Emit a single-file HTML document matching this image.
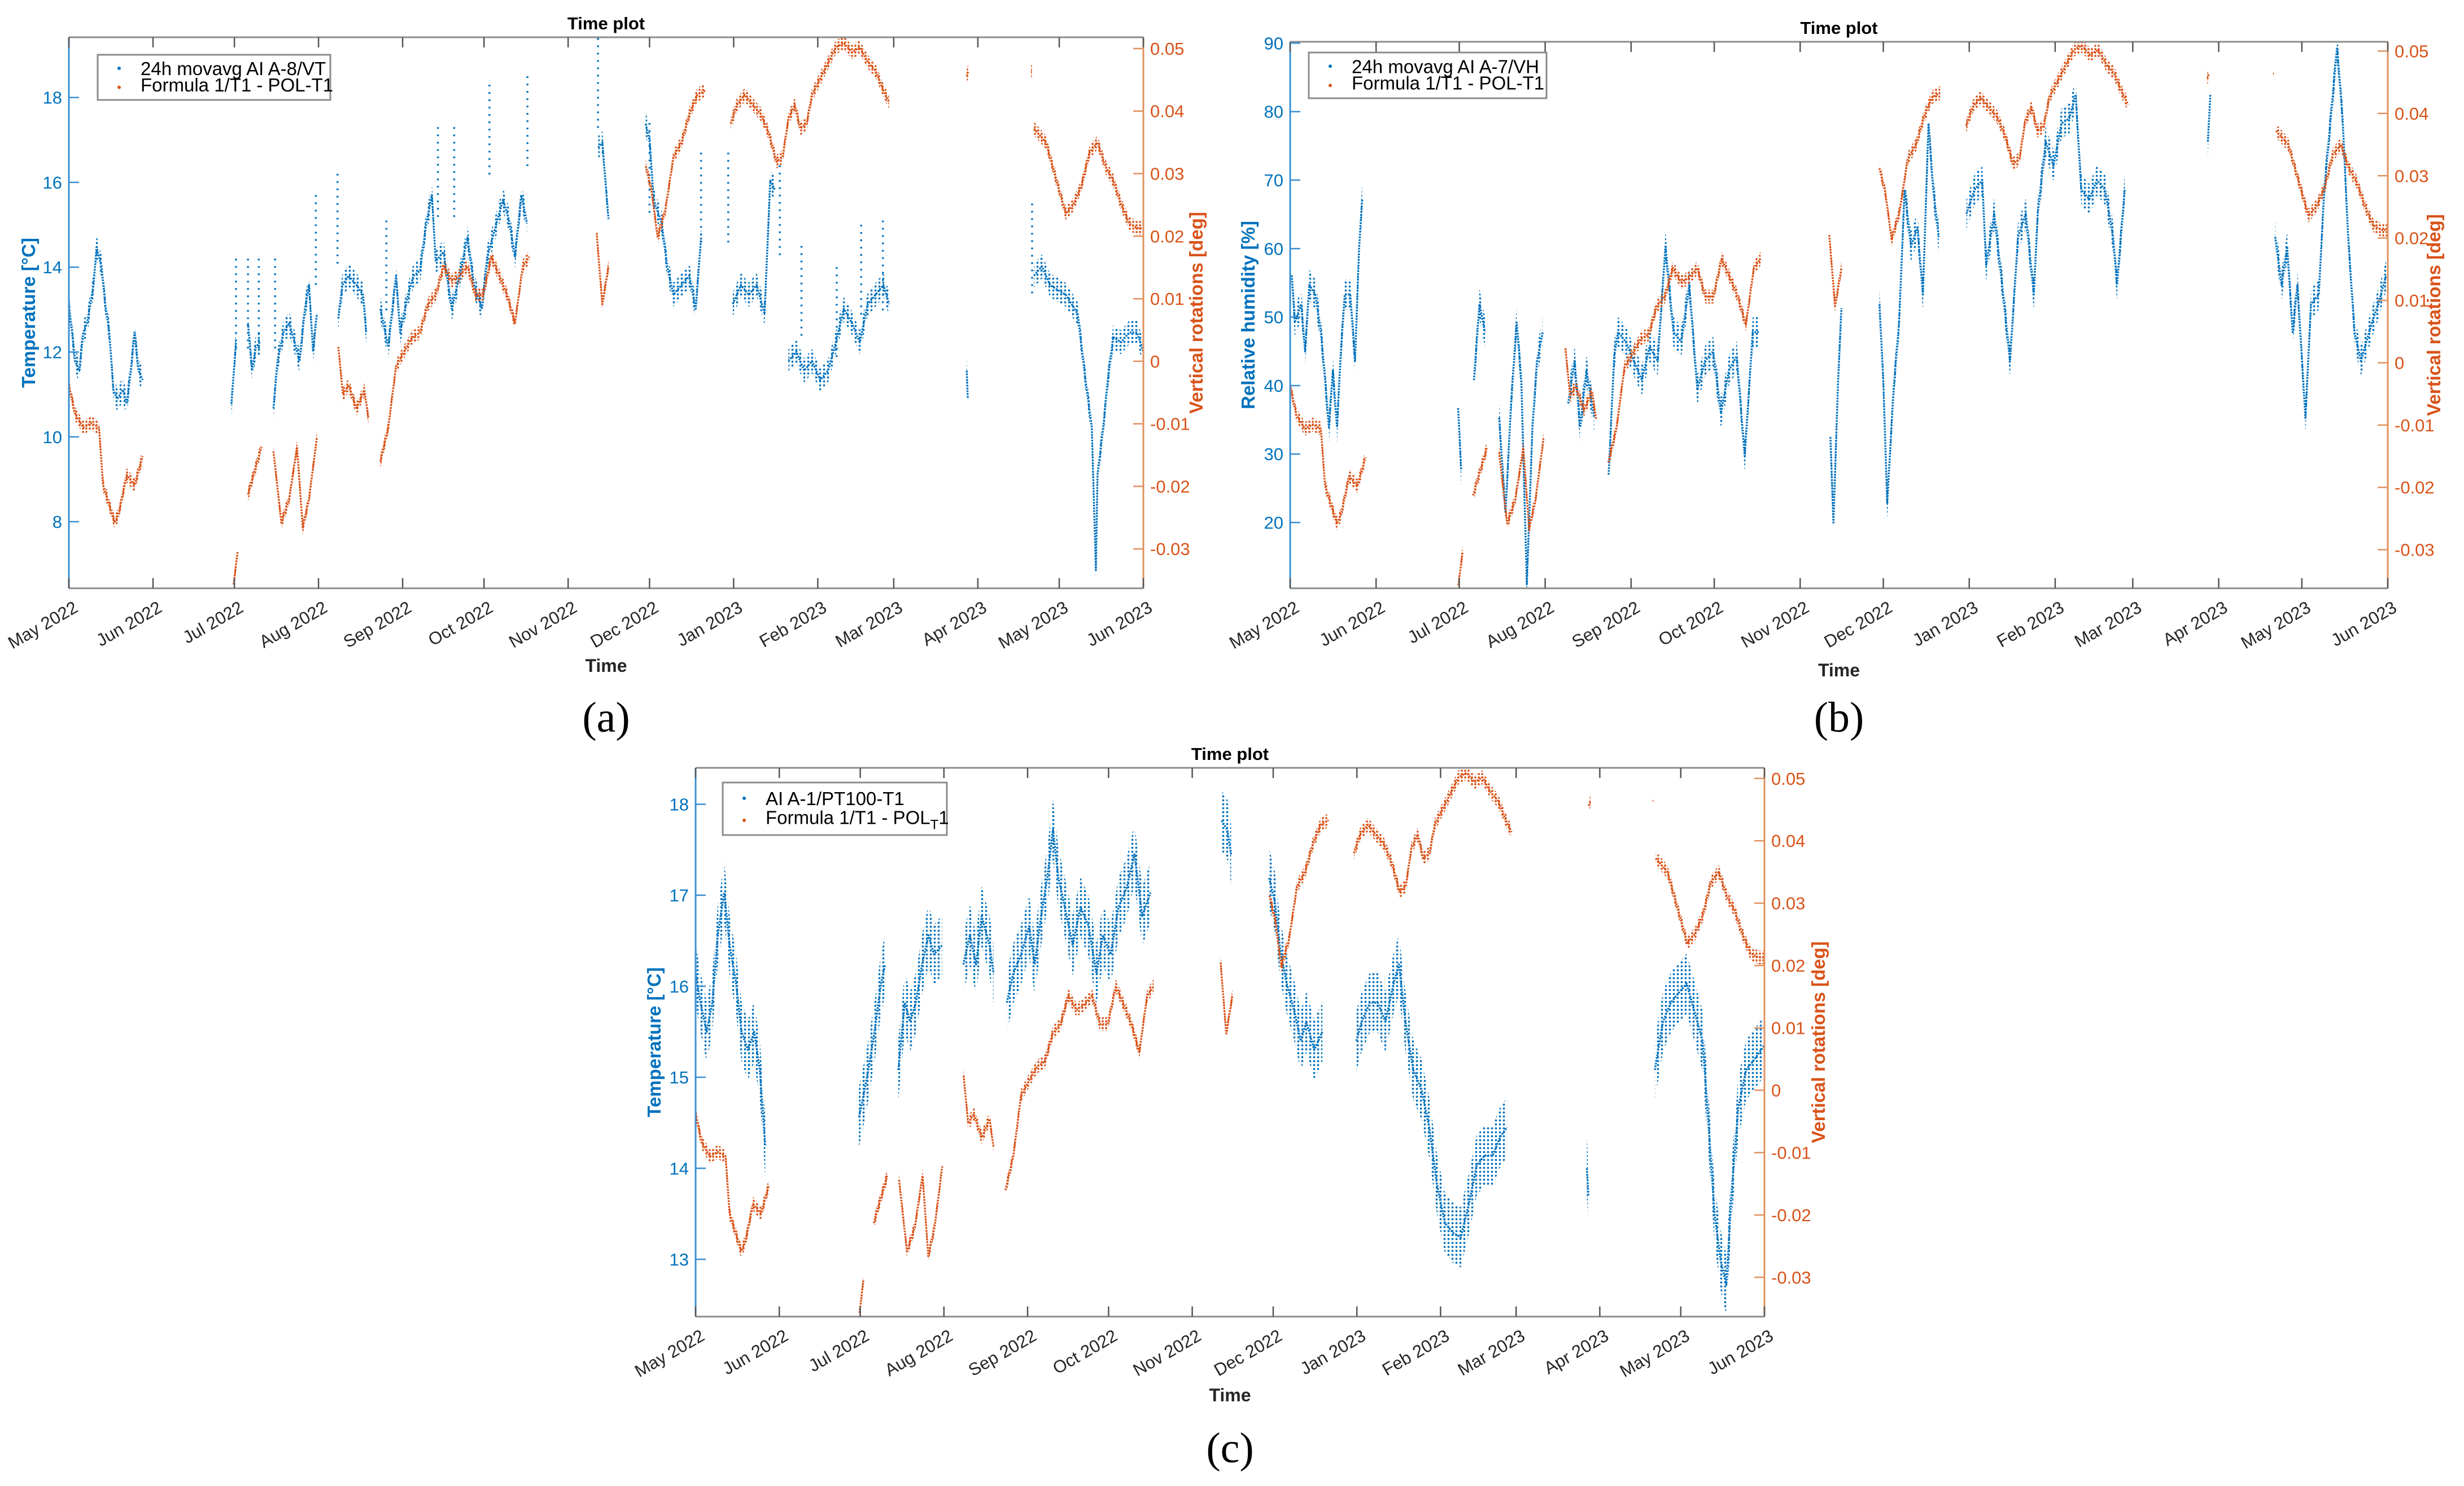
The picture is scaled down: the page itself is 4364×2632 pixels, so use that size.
<!DOCTYPE html>
<html><head><meta charset="utf-8"><title>Time plots</title>
<style>
html,body{margin:0;padding:0;background:#fff;}
svg{display:block;font-family:"Liberation Sans",Arial,sans-serif;}
</style></head>
<body>
<svg id="root" width="4364" height="2632" viewBox="0 0 4364 2632" xmlns="http://www.w3.org/2000/svg">
<defs>
<pattern id="dotsBlue" width="7" height="7" patternUnits="userSpaceOnUse"><circle cx="3.5" cy="3.5" r="1.9" fill="#0072BD"/></pattern>
<pattern id="dotsOrange" width="6" height="6" patternUnits="userSpaceOnUse"><circle cx="3" cy="3" r="1.9" fill="#D95319"/></pattern>
</defs>
<rect x="0" y="0" width="4364" height="2632" fill="#fff"/>
</svg>
<script>
// ---- shared x axis: days since 1 May 2022 ----
const monthLabels = ["May 2022","Jun 2022","Jul 2022","Aug 2022","Sep 2022","Oct 2022","Nov 2022","Dec 2022","Jan 2023","Feb 2023","Mar 2023","Apr 2023","May 2023","Jun 2023"];
const monthDays = [0,31,61,92,123,153,184,214,245,276,304,335,365,396];

// ---- orange series (vertical rotations, deg) shared by all panels ----
const orangeDays = [0,2.3,5.3,8.2,11.1,12.6,16.9,18.4,21.3,24.2,27.2,null,60.7,62.2,null,66,68,71,null,75.4,78.3,81.2,84.1,86.2,88.5,91.4,null,99.3,101,103.1,106,108.9,110.4,null,114.8,117.7,120.6,123.5,126.5,129.4,132.3,135.2,138.1,141.1,144,146.9,149.8,152.7,155.7,158.6,161.5,164.4,167.3,169.7,null,194.5,196.6,198.9,null,212.6,214.7,217,219.9,222.8,225.8,228.7,231.6,234.5,null,243.9,246.2,249.1,252,255,257.9,260.8,263.1,265.2,267.5,269.6,271.9,273.9,278.3,282.7,285.6,288.6,291.5,294.4,297.3,300.2,302.3,null,330.9,331.5,null,354.6,354.9,null,355.7,360.1,364.5,367.4,370.3,373.2,376.2,379.1,382,384.9,387.8,390.8,393.7,396];
const orangeVals = [-0.0038,-0.0084,-0.0106,-0.0099,-0.0106,-0.0198,-0.0258,-0.0243,-0.0182,-0.0198,-0.0152,null,-0.0357,-0.0304,null,-0.0213,-0.0182,-0.0137,null,-0.0144,-0.0258,-0.022,-0.0137,-0.0266,-0.022,-0.0122,null,0.0023,-0.0053,-0.0038,-0.0076,-0.0046,-0.0091,null,-0.016,-0.0106,-0.0008,0.0015,0.0038,0.0046,0.0091,0.0106,0.0152,0.0129,0.0137,0.0152,0.0106,0.0106,0.0167,0.0137,0.0106,0.0061,0.0152,0.0167,null,0.0205,0.0091,0.0152,null,0.0312,0.0274,0.0198,0.0243,0.0327,0.035,0.0395,0.0426,0.0433,null,0.038,0.041,0.0426,0.041,0.0395,0.0365,0.0319,0.0327,0.0388,0.041,0.0372,0.038,0.0426,0.0464,0.0502,0.0509,0.0494,0.0502,0.0479,0.0464,0.0433,0.0414,null,0.0456,0.0464,null,0.0464,0.0464,null,0.0372,0.035,0.0281,0.0236,0.0251,0.0281,0.0334,0.035,0.0312,0.0289,0.0251,0.022,0.0213,0.0213];

// ---- panel (a): temperature A-8/VT ----
const blueADays = [0,2.3,3.8,5.3,6.7,9.1,10.2,12,13.4,14.9,16.4,17.8,19.9,21.3,22.8,24.2,25.7,27.2,null,59.9,61.6,null,66,67.5,68.9,70.4,null,75.4,76.9,79.1,81.2,83.2,85,87,88.5,90,91.4,null,99.3,100.8,103.1,106,108.4,109.6,null,114.8,117.7,120.6,122.1,125,127,129.4,131.7,133.8,135.2,138.1,141.1,144,146.9,149.3,152.2,154.2,157.1,160,162.1,164.4,166.8,168.8,null,195.1,196.6,198,198.9,null,212.6,214.1,215.5,218.5,220.5,222.8,225.8,228.7,231,233,null,244.7,247.7,250.6,253.5,256.4,258.5,260.2,null,265.2,268.1,271,273.9,276.9,279.8,282.7,285.6,288.6,291.5,294.4,297.3,300.2,302.3,null,330.9,331.3,null,355.7,358.6,361.6,364.5,367.4,371.8,374.7,377,378.5,379.1,381.2,382.9,384.9,387.8,390.8,393.7,396];
const blueAVals = [13.13,11.79,11.56,12.46,12.68,13.58,14.47,14.02,13.13,12.46,11.11,10.89,11.11,10.78,11.56,12.46,11.56,11.34,null,10.78,12.23,null,12.68,11.56,12.12,12.23,null,10.67,11.79,12.46,12.68,12.23,11.79,13.02,13.58,12.01,12.9,null,12.79,13.58,13.8,13.58,13.35,12.46,null,13.02,12.12,13.8,12.46,13.35,13.8,13.91,15.03,15.7,14.14,14.36,13.02,13.8,14.7,13.58,13.02,14.25,14.92,15.59,15.14,14.25,15.7,15.03,null,16.82,16.94,15.82,15.14,null,17.38,16.94,15.59,15.03,14.02,13.35,13.58,13.8,13.02,14.7,null,13.13,13.58,13.35,13.58,12.9,16.04,15.82,null,11.79,12.01,11.56,11.79,11.34,11.56,12.23,13.02,12.68,12.23,13.13,13.35,13.58,13.13,null,11.56,10.89,null,13.8,14.02,13.58,13.46,13.35,12.9,11.34,10.22,6.86,9.1,10.22,11.34,12.35,12.23,12.46,12.46,12.01];
const spikeADays = [61.6,66,70,76,91,99,117,136,142,155,169,195,214,233,243,262,270,283,292,300,355];
const spikeATops = [14.2,14.2,14.2,14.2,15.7,16.2,15.1,17.3,17.3,18.3,18.5,19.4,17.4,16.7,16.7,16.4,14.5,14.0,15.0,15.1,15.5];
const yTicksA = [8,10,12,14,16,18];

// ---- panel (b): relative humidity A-7/VH ----
const blueBDays = [0.6,1.7,4,5.4,6.9,9.1,11.1,12.6,14,15.4,16.9,18.3,19.7,21.7,23.4,24.9,26,null,60.6,61.7,null,66.3,68.3,70.3,null,75.4,77.7,79.7,81.7,83.4,85.4,87.4,89.1,91.1,null,100.3,102.6,104.6,106.9,109.7,null,114.9,116.9,118.3,121.1,124,126.9,129.7,132.6,135.4,138.3,141.1,144,146.9,149.7,152.6,155.4,158.3,161.1,164,166.9,169.1,null,194.9,196,197.7,198.9,null,212.6,214,215.4,217.7,219.7,221.7,224,226.3,228.3,230.3,232,234,null,244,246.9,249.7,251.1,254,256.9,259.7,262.6,265.4,268.3,269.7,272.6,275.4,278.3,281.1,283.4,285.4,288.3,291.1,294,296.9,298.3,301.1,null,331.1,332,null,355.4,357.7,359.7,361.7,363.4,366.3,368.3,371.1,373.1,375.4,377.7,379.7,381.7,384,386.3,388.3,390.3,392.6,395.4];
const blueBVals = [56.1,49.2,51.9,45,54.7,53.3,47.8,40.8,33.9,42.2,33.9,45,53.3,53.3,43.6,60.3,67.2,null,36.7,27.6,null,40.8,51.9,47.8,null,35.3,21.4,37.4,49.2,40.8,11,33.9,43.6,47.8,null,37.4,43.6,33.9,42.2,35.3,null,27,44.3,47.8,46.4,43.6,40.8,45.7,43.6,60.3,47.8,46.4,54.7,39.4,43.6,45,36,42.2,44.3,29.7,47.8,47.8,null,32.5,20,40.8,51.3,null,51.9,40.8,22.8,39.4,49.2,68.6,60.3,63.1,53.3,78.3,68.6,61.7,null,65.1,68.6,70,57.5,65.1,54.7,43.6,61.7,65.1,53.3,65.1,75.6,72.1,78.3,79,82.5,68.6,67.2,70,68.6,61.7,54.7,68.6,null,75.6,82.5,null,61.7,54.7,60.3,47.8,54.7,35.3,51.9,53.3,68.6,79,89.4,79,61.7,47.8,43.6,46.4,49.2,51.9,56.1];
const yTicksB = [20,30,40,50,60,70,80,90];

// ---- panel (c): temperature A-1/PT100-T1 ----
const blueCDays = [0,1.8,4.1,6.2,8.2,10.6,12.6,15,17,19.4,21.7,23.8,25.8,null,60.5,62,64,66.3,68.7,70.2,null,75.1,77.5,79.5,81.6,83.9,86.3,88.3,91.3,null,99.2,101.6,103.9,106,108.9,110.4,null,115.3,117.7,120.6,123.6,125.6,128,130.3,132.4,134.4,136.8,139.7,142.6,145.6,148.5,150.9,153.8,156.7,159.7,162.6,165.5,168.5,null,194.9,197,198.4,null,212.5,214.6,216.6,219,221.9,224.2,226.3,229.2,232.2,null,244.8,246.8,249.8,252.7,255.6,258.6,260.6,263,265.9,268.9,271.8,274.7,277.6,280.6,283.5,286.5,289.4,292.3,295.3,298.2,300.6,null,330.2,330.8,null,355.4,358.4,361.3,364.3,367.2,370.1,373.1,375.1,377.5,379.8,381.9,383.9,386.3,389.2,392.1,396];
const blueCVals = [16.14,15.82,15.5,15.82,16.56,17.03,16.45,16.03,15.5,15.3,15.5,15.08,14.24,null,14.56,14.77,15.08,15.5,16.03,16.24,null,15.08,15.82,15.61,15.82,16.24,16.56,16.35,16.45,null,16.24,16.56,16.24,16.77,16.45,16.14,null,15.82,16.14,16.35,16.66,16.24,16.77,17.19,17.72,17.19,16.87,16.45,16.87,16.66,16.14,16.56,16.35,16.87,17.08,17.45,16.77,17.03,null,17.82,17.72,17.45,null,17.19,16.93,16.4,16.03,15.72,15.4,15.61,15.3,15.5,null,15.4,15.61,15.82,15.82,15.61,16.03,16.24,15.61,15.08,14.87,14.45,13.82,13.4,13.29,13.24,13.61,14.03,14.14,14.14,14.35,14.45,null,14.0,13.7,null,15.08,15.61,15.82,15.93,16.03,15.72,15.4,14.56,13.5,12.98,12.72,13.77,14.66,15.08,15.19,15.35];
const yTicksC = [13,14,15,16,17,18];

const rightTicks = [-0.03,-0.02,-0.01,0,0.01,0.02,0.03,0.04,0.05];
const rightTickLabels = ["-0.03","-0.02","-0.01","0","0.01","0.02","0.03","0.04","0.05"];

// ---------------- rendering ----------------
const NS = "http://www.w3.org/2000/svg";
const root = document.getElementById("root");
const BLUE = "#0072BD", ORANGE = "#D95319", BLUEAX = "#3a8fd1", ORANGEAX = "#e0915f";
function mk(tag, attrs, parent) {
  const e = document.createElementNS(NS, tag);
  for (const k in attrs) e.setAttribute(k, attrs[k]);
  (parent || root).appendChild(e);
  return e;
}
function txt(s, attrs, parent) { const t = mk("text", attrs, parent); t.textContent = s; return t; }

function segmentsOf(days, vals) {
  const segs = []; let cur = [];
  for (let i = 0; i < days.length; i++) {
    if (days[i] === null || vals[i] === null) { if (cur.length) segs.push(cur); cur = []; }
    else cur.push([days[i], vals[i]]);
  }
  if (cur.length) segs.push(cur);
  return segs;
}

function drawSeries(g, segs, sx, sy, spread, color, pat, name) {
  segs.forEach(function (seg) {
    if (seg.length === 1) {
      const c = mk("circle", {cx: sx(seg[0][0]), cy: sy(seg[0][1]), r: 3, fill: color}, g);
      
      
      return;
    }
    const up = seg.map(p => sx(p[0]).toFixed(1) + "," + (sy(p[1] + spread)).toFixed(1));
    const lo = seg.slice().reverse().map(p => sx(p[0]).toFixed(1) + "," + (sy(p[1] - spread)).toFixed(1));
    const band = mk("polygon", {points: up.concat(lo).join(" "), fill: "url(#" + pat + ")", stroke: "none"}, g);
    
    
    const pts = seg.map(p => sx(p[0]).toFixed(1) + "," + sy(p[1]).toFixed(1)).join(" ");
    const line = mk("polyline", {points: pts, fill: "none", stroke: color, "stroke-width": 3.5, "stroke-dasharray": "3 2", "stroke-linejoin": "round"}, g);
    
    
  });
}

function panel(cfg) {
  const g = mk("g", {});
  
  
  const {L, R, T, B} = cfg;
  const sx = d => L + (d - 0) / 396 * (R - L);
  const sy = v => B - (v - cfg.yMin) / (cfg.yMax - cfg.yMin) * (B - T);
  const sr = v => B - (v - cfg.rMin) / (cfg.rMax - cfg.rMin) * (B - T);

  const cp = mk("clipPath", {id: "clip" + cfg.id}, g);
  mk("rect", {x: L, y: T, width: R - L, height: B - T}, cp);
  const plot = mk("g", {"clip-path": "url(#clip" + cfg.id + ")"}, g);
  
  

  drawSeries(plot, segmentsOf(cfg.bDays, cfg.bVals), sx, sy, cfg.spread, BLUE, "dotsBlue", "temperature-series-" + cfg.id);
  if (cfg.spikeDays) {
    cfg.spikeDays.forEach(function (d, i) {
      const s = mk("line", {x1: sx(d), x2: sx(d), y1: sy(cfg.spikeTops[i]), y2: sy(cfg.spikeTops[i] - 2.2), stroke: BLUE, "stroke-width": 3.5, "stroke-dasharray": "3 10"}, plot);
      
      
    });
  }
  drawSeries(plot, segmentsOf(orangeDays, orangeVals), sx, sr, 0.0011, ORANGE, "dotsOrange", "rotation-series-" + cfg.id);

  const top = mk("line", {x1: L, x2: R, y1: T, y2: T, stroke: "#8c8c8c", "stroke-width": 3}, g);
   
  const bot = mk("line", {x1: L, x2: R, y1: B, y2: B, stroke: "#8c8c8c", "stroke-width": 3}, g);
   
  const la = mk("line", {x1: L, x2: L, y1: T, y2: B, stroke: BLUEAX, "stroke-width": 3}, g);
   
  const ra = mk("line", {x1: R, x2: R, y1: T, y2: B, stroke: ORANGEAX, "stroke-width": 3}, g);
   

  monthDays.forEach(function (d, i) {
    const x = sx(d);
    mk("line", {x1: x, x2: x, y1: B, y2: B - 18, stroke: "#555", "stroke-width": 2.5}, g);
    mk("line", {x1: x, x2: x, y1: T, y2: T + 18, stroke: "#555", "stroke-width": 2.5}, g);
    const t = txt(monthLabels[i], {x: x + 18, y: B + 40, "text-anchor": "end", "font-size": 31, fill: "#262626", transform: "rotate(-30 " + (x + 18) + " " + (B + 40) + ")"}, g);
    
    
  });
  cfg.yTicks.forEach(function (v) {
    const y = sy(v);
    mk("line", {x1: L, x2: L + 18, y1: y, y2: y, stroke: BLUEAX, "stroke-width": 2.5}, g);
    const t = txt(String(v), {x: L - 12, y: y + 11, "text-anchor": "end", "font-size": 31, fill: BLUE}, g);
    
    
  });
  rightTicks.forEach(function (v, i) {
    const y = sr(v);
    mk("line", {x1: R, x2: R - 18, y1: y, y2: y, stroke: ORANGEAX, "stroke-width": 2.5}, g);
    const t = txt(rightTickLabels[i], {x: R + 12, y: y + 11, "text-anchor": "start", "font-size": 31, fill: ORANGE}, g);
    
    
  });
  const ti = txt("Time plot", {x: (L + R) / 2, y: T - 14, "text-anchor": "middle", "font-size": 31, "font-weight": "bold", fill: "#000"}, g);
   
  const xt = txt("Time", {x: (L + R) / 2, y: cfg.xTitleY, "text-anchor": "middle", "font-size": 32, "font-weight": "bold", fill: "#262626"}, g);
   
  const yl = txt(cfg.yLabel, {x: cfg.yLabelX, y: (T + B) / 2, "text-anchor": "middle", "font-size": 33, "font-weight": "bold", fill: BLUE, transform: "rotate(-90 " + cfg.yLabelX + " " + ((T + B) / 2) + ")"}, g);
   
  const yr = txt("Vertical rotations [deg]", {x: cfg.rLabelX, y: (T + B) / 2, "text-anchor": "middle", "font-size": 33, "font-weight": "bold", fill: ORANGE, transform: "rotate(-90 " + cfg.rLabelX + " " + ((T + B) / 2) + ")"}, g);
   
  const cap = txt(cfg.caption, {x: (L + R) / 2, y: cfg.capY, "text-anchor": "middle", "font-size": 76, fill: "#000", "font-family": "Liberation Serif, serif"}, g);
   

  const lg = mk("g", {}, g);
   
  const lb = cfg.legend;
  mk("rect", {x: lb.x, y: lb.y, width: lb.w, height: lb.h, fill: "#fff", stroke: "#8c8c8c", "stroke-width": 3}, lg);
  const e1 = mk("g", {}, lg);
   
  mk("circle", {cx: lb.x + 38, cy: lb.y + lb.h * 0.3, r: 3, fill: BLUE}, e1);
  txt(lb.t1, {x: lb.x + 76, y: lb.y + lb.h * 0.3 + 12, "font-size": 33, fill: "#000"}, e1);
  const e2 = mk("g", {}, lg);
   
  mk("circle", {cx: lb.x + 38, cy: lb.y + lb.h * 0.72, r: 3, fill: ORANGE}, e2);
  const t2 = txt(lb.t2, {x: lb.x + 76, y: lb.y + lb.h * 0.66 + 12, "font-size": 33, fill: "#000"}, e2);
  if (lb.sub) {
    const ts = mk("tspan", {dy: 9, "font-size": 24}, t2); ts.textContent = "T";
    const t3 = mk("tspan", {dy: -9}, t2); t3.textContent = "1";
  }
}

panel({id: "a", L: 122, R: 2025, T: 66, B: 1042, yMin: 6.43, yMax: 19.42, rMin: -0.0363, rMax: 0.0518,
  yTicks: yTicksA, bDays: blueADays, bVals: blueAVals, spread: 0.28, spikeDays: spikeADays, spikeTops: spikeATops,
  yLabel: "Temperature [°C]", yLabelX: 62, rLabelX: 2130, xTitleY: 1190, capY: 1296, caption: "(a)",
  legend: {x: 173, y: 97, w: 412, h: 80, t1: "24h movavg AI A-8/VT", t2: "Formula 1/T1 - POL-T1"}});
panel({id: "b", L: 2285, R: 4229, T: 74, B: 1042, yMin: 10.4, yMax: 90.2, rMin: -0.0362, rMax: 0.0515,
  yTicks: yTicksB, bDays: blueBDays, bVals: blueBVals, spread: 2.2,
  yLabel: "Relative humidity [%]", yLabelX: 2222, rLabelX: 4322, xTitleY: 1198, capY: 1296, caption: "(b)",
  legend: {x: 2318, y: 93, w: 421, h: 81, t1: "24h movavg AI A-7/VH", t2: "Formula 1/T1 - POL-T1"}});
panel({id: "c", L: 1232, R: 3125, T: 1360, B: 2332, yMin: 12.37, yMax: 18.40, rMin: -0.0363, rMax: 0.0517,
  yTicks: yTicksC, bDays: blueCDays, bVals: blueCVals, spread: 0.33,
  yLabel: "Temperature [°C]", yLabelX: 1170, rLabelX: 3232, xTitleY: 2482, capY: 2590, caption: "(c)",
  legend: {x: 1280, y: 1386, w: 397, h: 93, t1: "AI A-1/PT100-T1", t2: "Formula 1/T1 - POL", sub: true}});
</script>
</body></html>
